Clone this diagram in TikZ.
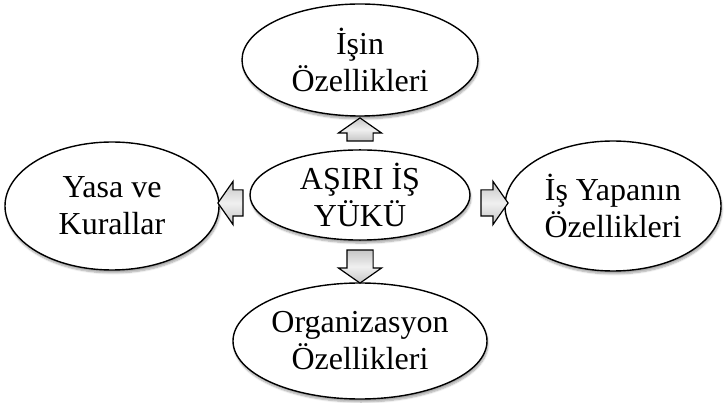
\documentclass[tikz,border=0pt]{standalone}
\usepackage{fontspec}
\setmainfont{Liberation Serif}
\usetikzlibrary{shapes.geometric,shapes.arrows,shadows.blur}

\tikzset{
  bubble/.style={ellipse, draw, line width=1.4pt, fill=white, inner sep=0pt,
    align=center, font=\fontsize{32}{37}\selectfont,
    blur shadow={shadow xshift=1pt, shadow yshift=-3pt, shadow blur steps=6, shadow opacity=35}},
  blockarrow/.style={single arrow, draw, line width=1.2pt, inner xsep=0pt, inner ysep=12.5pt,
    single arrow head extend=8.5pt, single arrow tip angle=110, minimum height=25pt,
    top color=gray!45, bottom color=gray!45, middle color=gray!12}
}

\begin{document}
\begin{tikzpicture}[x=1pt,y=-1pt]
    \useasboundingbox (0,0) rectangle (726,403);

    % ellipses
    \node[bubble, minimum width=236pt, minimum height=112pt] (isin) at (360,60) {İşin\\Özellikleri};
    \node[bubble, minimum width=214pt, minimum height=128pt] (yasa) at (112,206) {Yasa ve\\Kurallar};
    \node[bubble, minimum width=220pt, minimum height=84pt] (yuk) at (360,195) {AŞIRI İŞ\\YÜKÜ};
    \node[bubble, minimum width=216pt, minimum height=130pt] (yapan) at (613,206) {İş Yapanın\\Özellikleri};
    \node[bubble, minimum width=254pt, minimum height=116pt] (org) at (360,341) {Organizasyon\\Özellikleri};

    % block arrows
    \node[blockarrow, rotate=90, minimum height=23pt] (aup) at (360,134) {};
    \node[blockarrow, rotate=180] (aleft) at (235,203) {};
    \node[blockarrow, minimum height=27pt] (aright) at (490,203) {};
    \node[blockarrow, rotate=-90, minimum height=33pt] (adown) at (360,262) {};

\end{tikzpicture}
\end{document}
